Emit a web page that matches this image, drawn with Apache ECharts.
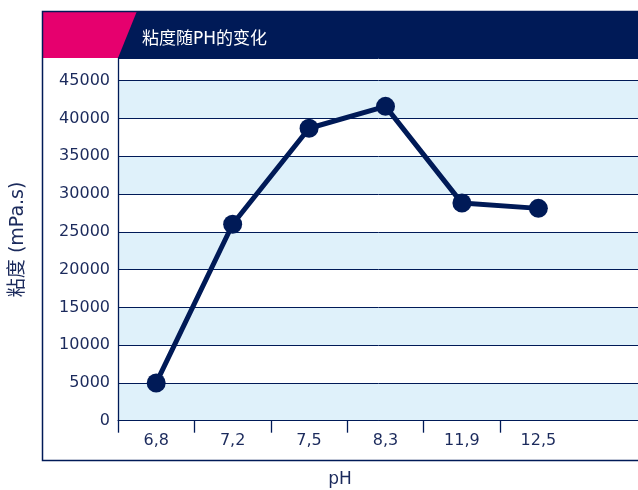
<!DOCTYPE html>
<html><head><meta charset="utf-8">
<script src="https://cdn.jsdelivr.net/npm/echarts@6/dist/echarts.min.js"></script>
<style>html,body{margin:0;padding:0;background:#fff}#c{width:638px;height:490px}</style>
</head><body><div id="c"></div>
<script>
const categories = ['6,8', '7,2', '7,5', '8,3', '11,9', '12,5'];
const viscosity = [5000, 26000, 38700, 41600, 28800, 28100];
const yTicks = [0, 5000, 10000, 15000, 20000, 25000, 30000, 35000, 40000, 45000];
const titleText = '粘度随PH的变化';
const yName = '粘度 (mPa.s)';
const xName = 'pH';

const NAVY = '#001a57';
const TEXT = '#1b2a5c';
const FONT = 'DejaVu Sans, Verdana, sans-serif';
const MIXED = 'DejaVu Sans, Noto Sans CJK SC, sans-serif';

const chart = echarts.init(document.getElementById('c'));
chart.setOption({
  animation: false,
  title: {
    text: titleText, left: 137, top: 26,
    textStyle: { color: '#ffffff', fontSize: 17, fontWeight: 'normal', fontFamily: MIXED }
  },
  grid: { left: 118, width: 535, top: 58, bottom: 69.3, containLabel: false, outerBoundsMode: 'none' },
  xAxis: {
    type: 'category',
    data: categories.concat(['']),
    boundaryGap: true,
    axisLine: { show: true, lineStyle: { color: NAVY, width: 1 } },
    axisTick: { show: true, length: 12, lineStyle: { color: NAVY, width: 1.3 }, interval: (i) => i < 6 },
    axisLabel: { color: TEXT, fontSize: 16, fontFamily: FONT, margin: 12 },
    splitLine: { show: false }
  },
  yAxis: {
    type: 'value', min: 0, max: 48000, interval: 5000,
    name: yName, nameLocation: 'middle', nameRotate: 90, nameGap: 90,
    nameTextStyle: { color: TEXT, fontSize: 19, fontFamily: MIXED },
    axisLine: { show: true, onZero: false, lineStyle: { color: NAVY, width: 1.3 } },
    axisTick: { show: false },
    axisLabel: {
      color: TEXT, fontSize: 16, fontFamily: FONT, margin: 8,
      formatter: (v) => yTicks.indexOf(v) >= 0 ? String(v) : ''
    },
    splitLine: { show: true, lineStyle: { color: NAVY, width: 1 } },
    splitArea: { show: true, areaStyle: { color: ['#dff1fa', '#ffffff'] } }
  },
  series: [{
    type: 'line',
    data: viscosity,
    symbol: 'circle', symbolSize: 19,
    itemStyle: { color: NAVY },
    lineStyle: { color: NAVY, width: 5 },
    z: 5
  }],
  graphic: [
    { type: 'rect', shape: { x: 42.5, y: 11.5, width: 700, height: 449 }, style: { fill: 'none', stroke: NAVY, lineWidth: 1.5 }, z: 100 },
    { type: 'rect', shape: { x: 42, y: 11, width: 700, height: 47 }, style: { fill: NAVY }, z: -1 },
    { type: 'polygon', shape: { points: [[42, 11], [137, 11], [118, 58], [42, 58]] }, style: { fill: '#e6006e' }, z: 0 },
    { type: 'text', x: 340, y: 480, style: { text: xName, fill: TEXT, fontSize: 17, fontFamily: FONT, align: 'center', verticalAlign: 'middle' } }
  ]
});
</script></body></html>
